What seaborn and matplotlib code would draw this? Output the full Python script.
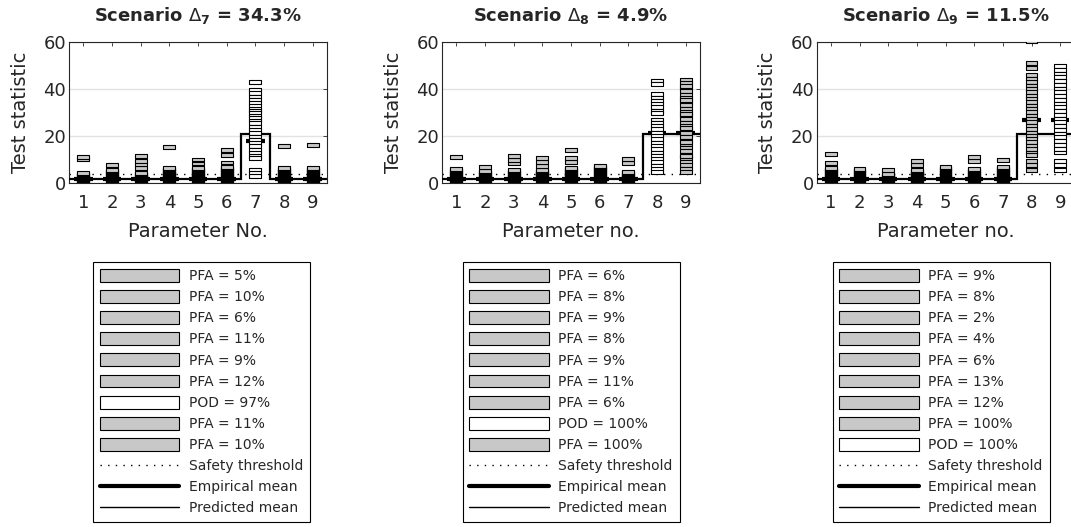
import numpy as np
import pandas as pd
import matplotlib
matplotlib.use("Agg")
import matplotlib.pyplot as plt
import seaborn as sns
from matplotlib.patches import Patch
from matplotlib.lines import Line2D

# ---------------- data ----------------
params = [1, 2, 3, 4, 5, 6, 7, 8, 9]
xtick_labels = ["1", "2", "3", "4", "5", "6", "7", "8", "9"]
y_ticks = [0, 20, 40, 60]
threshold = 3.84

titles = [r"Scenario $\Delta_{\mathbf{7}}$ = 34.3%",
          r"Scenario $\Delta_{\mathbf{8}}$ = 4.9%",
          r"Scenario $\Delta_{\mathbf{9}}$ = 11.5%"]
xlabels = ["Parameter No.", "Parameter no.", "Parameter no."]
ylabel = "Test statistic"

# test statistic samples, scenario Delta_7
s7_p1 = [0.3, 0.7, 1.1, 1.5, 1.9, 2.3, 2.7, 3.1, 3.5, 3.9, 4.3, 10.2, 11.1]
s7_p2 = [0.3, 0.7, 1.1, 1.5, 1.9, 2.3, 2.7, 3.1, 3.5, 3.9, 4.3, 4.7, 5.1, 5.5, 7.8]
s7_p3 = [0.3, 0.7, 1.1, 1.5, 1.9, 2.3, 2.7, 3.1, 3.5, 3.9, 4.3, 6.3, 8.0, 9.4, 11.5]
s7_p4 = [0.3, 0.7, 1.1, 1.5, 1.9, 2.3, 2.7, 3.1, 3.5, 3.9, 4.3, 4.7, 5.1, 5.5, 5.9,
         6.3, 15.2]
s7_p5 = [0.3, 0.7, 1.1, 1.5, 1.9, 2.3, 2.7, 3.1, 3.5, 3.9, 4.3, 4.7, 5.1, 5.5, 5.9,
         6.3, 8.3, 10.0]
s7_p6 = [0.3, 0.7, 1.1, 1.5, 1.9, 2.3, 2.7, 3.1, 3.5, 3.9, 4.3, 4.7, 5.1, 5.5, 5.9,
         6.3, 6.7, 8.7, 12.1, 14.0]
s7_p7 = [43.1, 39.6, 38.2, 36.8, 35.4, 34.0, 32.6, 31.6, 30.6, 29.6, 28.6, 27.6, 26.6,
         25.4, 24.0, 22.6, 21.2, 19.8, 18.4, 17.0, 15.6, 14.2, 12.8, 11.6, 10.5,
         5.6, 4.2, 2.8]
s7_p8 = [0.3, 0.7, 1.1, 1.5, 1.9, 2.3, 2.7, 3.1, 3.5, 3.9, 4.3, 4.7, 5.1, 5.5, 5.9,
         6.3, 15.7]
s7_p9 = [0.3, 0.7, 1.1, 1.5, 1.9, 2.3, 2.7, 3.1, 3.5, 3.9, 4.3, 4.7, 5.1, 5.5, 5.9,
         6.3, 16.3]

# scenario Delta_8
s8_p1 = [0.3, 0.7, 1.1, 1.5, 1.9, 2.3, 2.7, 3.1, 3.5, 3.9, 4.3, 4.7, 5.1, 5.5, 5.9,
         10.9]
s8_p2 = [0.3, 0.7, 1.1, 1.5, 1.9, 2.3, 2.7, 3.1, 3.5, 3.9, 4.3, 4.7, 5.1, 6.9]
s8_p3 = [0.3, 0.7, 1.1, 1.5, 1.9, 2.3, 2.7, 3.1, 3.5, 3.9, 4.3, 4.7, 5.1, 5.5,
         8.4, 9.8, 11.4]
s8_p4 = [0.3, 0.7, 1.1, 1.5, 1.9, 2.3, 2.7, 3.1, 3.5, 3.9, 4.3, 4.7, 5.1, 5.5,
         7.2, 8.8, 10.6]
s8_p5 = [0.3, 0.7, 1.1, 1.5, 1.9, 2.3, 2.7, 3.1, 3.5, 3.9, 4.3, 4.7, 5.1, 5.5, 5.9,
         6.3, 9.0, 10.5, 13.9]
s8_p6 = [0.3, 0.7, 1.1, 1.5, 1.9, 2.3, 2.7, 3.1, 3.5, 3.9, 4.3, 4.7, 5.1, 5.5, 5.9,
         6.3, 6.7, 7.1]
s8_p7 = [0.3, 0.7, 1.1, 1.5, 1.9, 2.3, 2.7, 3.1, 3.5, 3.9, 4.3, 4.7, 8.6, 10.1]
s8_p8 = [43.6, 42.1, 37.8, 36.4, 35.0, 33.6, 32.2, 30.8, 29.6, 27.0, 25.6, 24.2,
         22.8, 21.4, 20.0, 18.6, 17.2, 15.8, 14.4, 13.0, 11.6, 10.2, 8.8, 7.4, 6.0, 4.8]
s8_p9 = [44.0, 42.5, 40.6, 39.1, 37.6, 36.1, 34.6, 33.1, 31.6, 30.1, 28.6, 27.1,
         25.6, 24.1, 22.6, 21.1, 19.6, 18.1, 16.6, 15.1, 13.6, 12.1, 10.6, 9.1, 7.6,
         6.1, 4.8, 41.2, 35.2, 29.3, 23.3, 17.4, 11.4]

# scenario Delta_9
s9_p1 = [0.3, 0.7, 1.1, 1.5, 1.9, 2.3, 2.7, 3.1, 3.5, 3.9, 4.3, 4.7, 5.1, 5.5, 5.9,
         6.3, 8.6, 12.4]
s9_p2 = [0.3, 0.7, 1.1, 1.5, 1.9, 2.3, 2.7, 3.1, 3.5, 3.9, 4.3, 4.7, 5.1, 5.5, 5.9]
s9_p3 = [0.3, 0.7, 1.1, 1.5, 1.9, 2.3, 2.7, 3.1, 3.5, 3.9, 5.7]
s9_p4 = [0.3, 0.7, 1.1, 1.5, 1.9, 2.3, 2.7, 3.1, 3.5, 3.9, 4.3, 4.7, 5.1, 5.5,
         7.8, 9.3]
s9_p5 = [0.3, 0.7, 1.1, 1.5, 1.9, 2.3, 2.7, 3.1, 3.5, 3.9, 4.3, 4.7, 5.1, 5.5, 5.9,
         6.3, 6.7]
s9_p6 = [0.3, 0.7, 1.1, 1.5, 1.9, 2.3, 2.7, 3.1, 3.5, 3.9, 4.3, 4.7, 5.1, 5.5, 5.9,
         9.4, 11.1]
s9_p7 = [0.3, 0.7, 1.1, 1.5, 1.9, 2.3, 2.7, 3.1, 3.5, 3.9, 4.3, 4.7, 5.1, 5.5, 5.9,
         6.3, 6.7, 9.7]
s9_p8 = [60.3, 51.0, 49.1, 45.8, 44.4, 43.0, 41.5, 40.1, 38.7, 37.2, 35.8, 34.4,
         33.0, 31.5, 30.1, 28.7, 27.3, 25.8, 24.4, 23.0, 21.5, 20.1, 18.7, 17.3,
         15.8, 14.4, 13.0, 12.0, 9.3, 7.5, 5.6]
s9_p9 = [49.8, 48.2, 46.6, 45.0, 43.4, 41.8, 40.2, 38.6, 37.0, 35.4, 33.8, 32.2,
         30.6, 29.0, 27.4, 25.8, 24.2, 22.6, 21.0, 19.4, 17.8, 16.2, 14.6, 13.0,
         9.3, 7.5, 5.6]

samples7 = [s7_p1, s7_p2, s7_p3, s7_p4, s7_p5, s7_p6, s7_p7, s7_p8, s7_p9]
samples8 = [s8_p1, s8_p2, s8_p3, s8_p4, s8_p5, s8_p6, s8_p7, s8_p8, s8_p9]
samples9 = [s9_p1, s9_p2, s9_p3, s9_p4, s9_p5, s9_p6, s9_p7, s9_p8, s9_p9]

empirical7 = [1.6, 1.6, 1.6, 1.6, 1.6, 1.6, 17.9, 1.6, 1.6]
empirical8 = [1.6, 1.6, 1.6, 1.6, 1.6, 1.6, 1.6, 21.2, 21.2]
empirical9 = [1.6, 1.6, 1.6, 1.6, 1.6, 1.6, 1.6, 26.7, 26.7]
predicted7 = [1.9, 1.9, 1.9, 1.9, 1.9, 1.9, 21.0, 1.9, 1.9]
predicted8 = [1.9, 1.9, 1.9, 1.9, 1.9, 1.9, 1.9, 21.0, 21.0]
predicted9 = [1.9, 1.9, 1.9, 1.9, 1.9, 1.9, 1.9, 21.0, 21.0]

legend7 = ["PFA = 5%", "PFA = 10%", "PFA = 6%", "PFA = 11%", "PFA = 9%",
           "PFA = 12%", "POD = 97%", "PFA = 11%", "PFA = 10%"]
legend8 = ["PFA = 6%", "PFA = 8%", "PFA = 9%", "PFA = 8%", "PFA = 9%",
           "PFA = 11%", "PFA = 6%", "POD = 100%", "PFA = 100%"]
legend9 = ["PFA = 9%", "PFA = 8%", "PFA = 2%", "PFA = 4%", "PFA = 6%",
           "PFA = 13%", "PFA = 12%", "PFA = 100%", "POD = 100%"]
line_labels = ["Safety threshold", "Empirical mean", "Predicted mean"]

panels = [
    (samples7, empirical7, predicted7, legend7),
    (samples8, empirical8, predicted8, legend8),
    (samples9, empirical9, predicted9, legend9),
]

# ---------------- style ----------------
sns.set_style("white")
plt.rcParams["font.family"] = ["DejaVu Sans"]
plt.rcParams["mathtext.fontset"] = "dejavusans"

GRAY = "#c8c8c8"
AX_COL = "#262626"
fill_palette = {"PFA": GRAY, "POD": "white"}
rect_marker = [(-1, -0.33), (1, -0.33), (1, 0.33), (-1, 0.33), (-1, -0.33)]
DOTS = (0, (1, 4.5))

W, H = 1071, 527
fig = plt.figure(figsize=(W / 100, H / 100), dpi=100)

ax_lefts = [69, 442, 816.5]
leg_lefts = [92.7, 462.5, 832.5]
ax_w, ax_top, ax_bot = 258, 42, 183

for i, (samples, emp, pred, leg) in enumerate(panels):
    ax = fig.add_axes([ax_lefts[i] / W, 1 - ax_bot / H, ax_w / W, (ax_bot - ax_top) / H])

    rows = []
    for p, vals, lab in zip(params, samples, leg):
        kind = lab.split(" ")[0]
        for v in vals:
            rows.append((p, v, kind))
    df = pd.DataFrame(rows, columns=["param", "stat", "kind"])

    ax.set_xlim(0.5, 9.5)
    ax.set_ylim(0, 60)
    ax.yaxis.grid(True, color="#e2e2e2", lw=1.0)
    ax.xaxis.grid(False)
    ax.set_axisbelow(True)

    ax.axhline(threshold, color="black", lw=1.0, ls=DOTS, zorder=2)
    ax.hlines(emp, np.array(params) - 0.32, np.array(params) + 0.32,
              color="black", lw=3.0, zorder=3)
    ax.stairs(pred, np.arange(0.5, 10.5, 1.0), color="black", lw=1.6,
              baseline=None, zorder=3)

    sns.scatterplot(data=df, x="param", y="stat", hue="kind", palette=fill_palette,
                    marker=rect_marker, s=72, edgecolor="black", linewidth=0.8,
                    legend=False, ax=ax, zorder=5)

    ax.set_xticks(params)
    ax.set_xticklabels(xtick_labels)
    ax.set_yticks(y_ticks)
    ax.tick_params(axis="both", direction="in", top=True, right=True, length=3,
                   width=0.6, color=AX_COL, labelcolor=AX_COL, labelsize=13)
    ax.tick_params(axis="x", pad=8)
    ax.tick_params(axis="y", pad=2)
    for sp in ax.spines.values():
        sp.set_color(AX_COL)
        sp.set_linewidth(0.8)
        sp.set_visible(True)

    ax.set_xlabel(xlabels[i], fontsize=14, color=AX_COL, labelpad=7)
    ax.set_ylabel(ylabel, fontsize=14, color=AX_COL, labelpad=10)
    ax.set_title(titles[i], fontsize=13, fontweight="bold", pad=15)

    handles = [Patch(facecolor=fill_palette[lab.split(" ")[0]], edgecolor="black", lw=0.8)
               for lab in leg]
    handles += [Line2D([], [], color="black", lw=1.0, ls=DOTS),
                Line2D([], [], color="black", lw=3.0),
                Line2D([], [], color="black", lw=1.0)]
    lg = fig.legend(handles, leg + line_labels, loc="upper left",
                    bbox_to_anchor=(leg_lefts[i] / W, 1 - 262 / H),
                    borderaxespad=0, fontsize=10, handlelength=5.7,
                    handleheight=1.05, handletextpad=0.7, labelspacing=0.5,
                    borderpad=0.5, fancybox=False, framealpha=1,
                    edgecolor="black")
    lg.get_frame().set_linewidth(0.8)
    for t in lg.get_texts():
        t.set_color(AX_COL)

fig.savefig("out.png", dpi=100)
